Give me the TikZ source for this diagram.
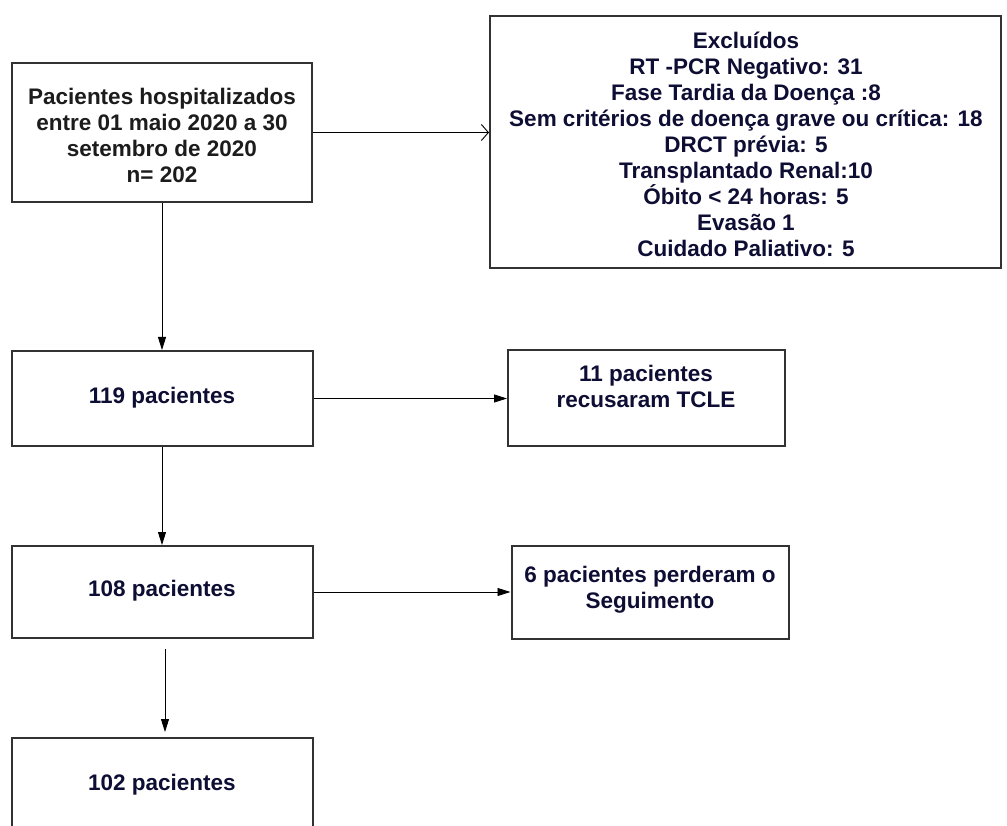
\documentclass[tikz,border=0pt]{standalone}
\usepackage{fontspec}
\setmainfont{Liberation Sans}
\usetikzlibrary{arrows.meta}
\definecolor{navy}{RGB}{14,14,52}
\definecolor{ink}{RGB}{28,28,28}
\definecolor{edge}{RGB}{50,50,50}
\begin{document}
\begin{tikzpicture}[x=1pt,y=-1pt,
  box/.style={draw=edge, line width=2pt, inner sep=0pt},
  txt/.style={font=\bfseries\fontsize{22.5}{26}\selectfont, text=navy, align=center, inner sep=0pt},
  arr/.style={-{Triangle[length=13pt,width=8pt]}, line width=0.8pt, black},
  openarr/.style={-{Straight Barb[length=7pt,width=16pt]}, line width=0.9pt, black}]
\clip (0,0) rectangle (1007,826);
\fill[white] (0,0) rectangle (1007,826);
% boxes
\node[box, minimum width=300pt, minimum height=139pt] (b1) at (162,132.5) {};
\node[txt, text=ink] (t1) at (162,135) {Pacientes hospitalizados\\entre 01 maio 2020 a 30\\setembro de 2020\\n= 202};
\node[box, minimum width=511pt, minimum height=252pt] (b2) at (745.5,142) {};
\node[txt] (t2) at (746,144) {Excluídos\\RT -PCR Negativo: 31\\Fase Tardia da Doença :8\\Sem critérios de doença grave ou crítica: 18\\DRCT prévia: 5\\Transplantado Renal:10\\Óbito < 24 horas: 5\\Evasão 1\\Cuidado Paliativo: 5};
\node[box, minimum width=301pt, minimum height=95pt] (b3) at (162,398.5) {};
\node[txt] (t3) at (162,398) {119 pacientes};
\node[box, minimum width=277pt, minimum height=96pt] (b4) at (646.5,398) {};
\node[txt] (t4) at (646,386) {11 pacientes\\recusaram TCLE};
\node[box, minimum width=301pt, minimum height=92pt] (b5) at (162,592) {};
\node[txt] (t5) at (162,591) {108 pacientes};
\node[box, minimum width=277pt, minimum height=93pt] (b6) at (650,592) {};
\node[txt] (t6) at (650,590) {6 pacientes perderam o\\Seguimento};
\node[box, minimum width=301pt, minimum height=170pt] (b7) at (162,823) {};
\node[txt] (t7) at (162,785) {102 pacientes};
% connectors
\draw[openarr] (b1.east) -- (b1.east -| b2.west);
\draw[arr] (b1.south) -- (b3.north);
\draw[arr] (b3.east) -- (b3.east -| b4.west);
\draw[arr] (b3.south) -- (b5.north);
\draw[arr] (b5.east) -- (b5.east -| b6.west);
\draw[arr, shorten <=10pt, shorten >=5pt] ([xshift=3pt]b5.south) -- ([xshift=3pt]b5.south |- b7.north);
\end{tikzpicture}
\end{document}
